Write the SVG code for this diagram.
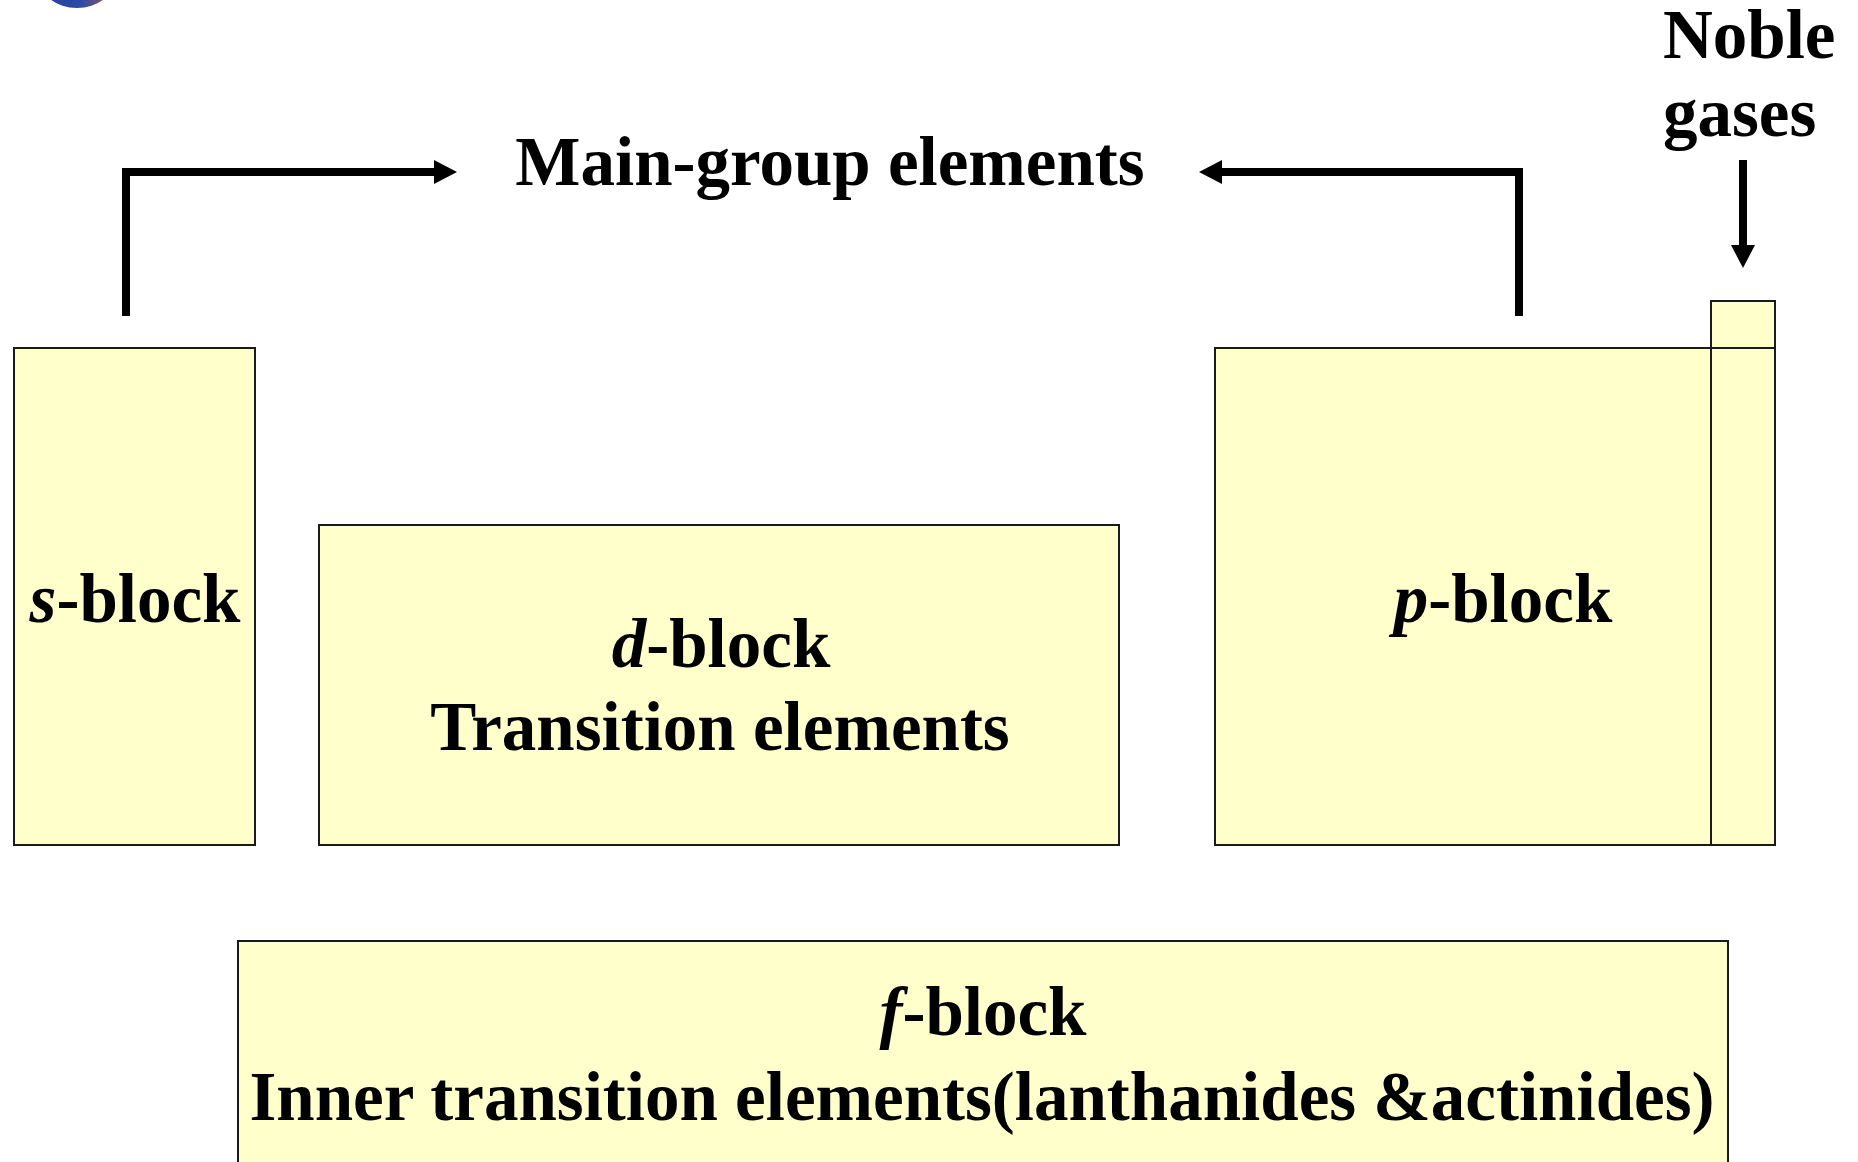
<svg xmlns="http://www.w3.org/2000/svg" width="1858" height="1162" viewBox="0 0 1858 1162">
<style>
.blk{fill:#FFFFCC;stroke:#1a1a1a;stroke-width:2}
.t{font-family:"Liberation Serif","Times New Roman",serif;font-weight:bold;font-size:69px;fill:#000}
.i{font-style:italic}
.c{text-anchor:middle}
.conn{fill:none;stroke:#000;stroke-width:8}
.head{fill:#000}
</style>
<defs>
<linearGradient id="logo" x1="0" y1="0" x2="1" y2="0">
<stop offset="0" stop-color="#2a3f9a"/>
<stop offset="0.55" stop-color="#2c4aa8"/>
<stop offset="1" stop-color="#a05a40"/>
</linearGradient>
</defs>
<rect width="1858" height="1162" fill="#fff"/>
<ellipse cx="77" cy="-22" rx="38" ry="30" fill="url(#logo)"/>

<g id="connectors">
<path class="conn" d="M126,316 V172 H438"/>
<polygon class="head" points="457,172 434,160 434,184"/>
<path class="conn" d="M1519,316 V172 H1218"/>
<polygon class="head" points="1199,172 1222,160 1222,184"/>
<path class="conn" d="M1743,160 V250"/>
<polygon class="head" points="1743,268 1731,245 1755,245"/>
</g>

<g id="main-group">
<text class="t c" x="830" y="185">Main-group elements</text>
</g>

<g id="noble-label">
<text class="t" x="1663" y="58">Noble</text>
<text class="t" x="1663" y="136">gases</text>
</g>

<g id="s-block">
<rect class="blk" x="14" y="348" width="241" height="497"/>
<text class="t c" x="135" y="622"><tspan class="i">s</tspan>-block</text>
</g>

<g id="d-block">
<rect class="blk" x="319" y="525" width="800" height="320"/>
<text class="t c" x="721" y="667"><tspan class="i">d</tspan>-block</text>
<text class="t c" x="720" y="750">Transition elements</text>
</g>

<g id="p-block">
<rect class="blk" x="1215" y="348" width="496" height="497"/>
<text class="t c" x="1503" y="622"><tspan class="i">p</tspan>-block</text>
</g>

<g id="noble-block">
<rect class="blk" x="1711" y="301" width="64" height="544"/>
<line x1="1711" y1="348" x2="1775" y2="348" stroke="#1a1a1a" stroke-width="2"/>
</g>

<g id="f-block">
<rect class="blk" x="238" y="941" width="1490" height="240"/>
<text class="t c" x="983" y="1035"><tspan class="i">f</tspan>-block</text>
<text class="t c" x="982" y="1120">Inner transition elements(lanthanides &amp;actinides)</text>
</g>
</svg>
